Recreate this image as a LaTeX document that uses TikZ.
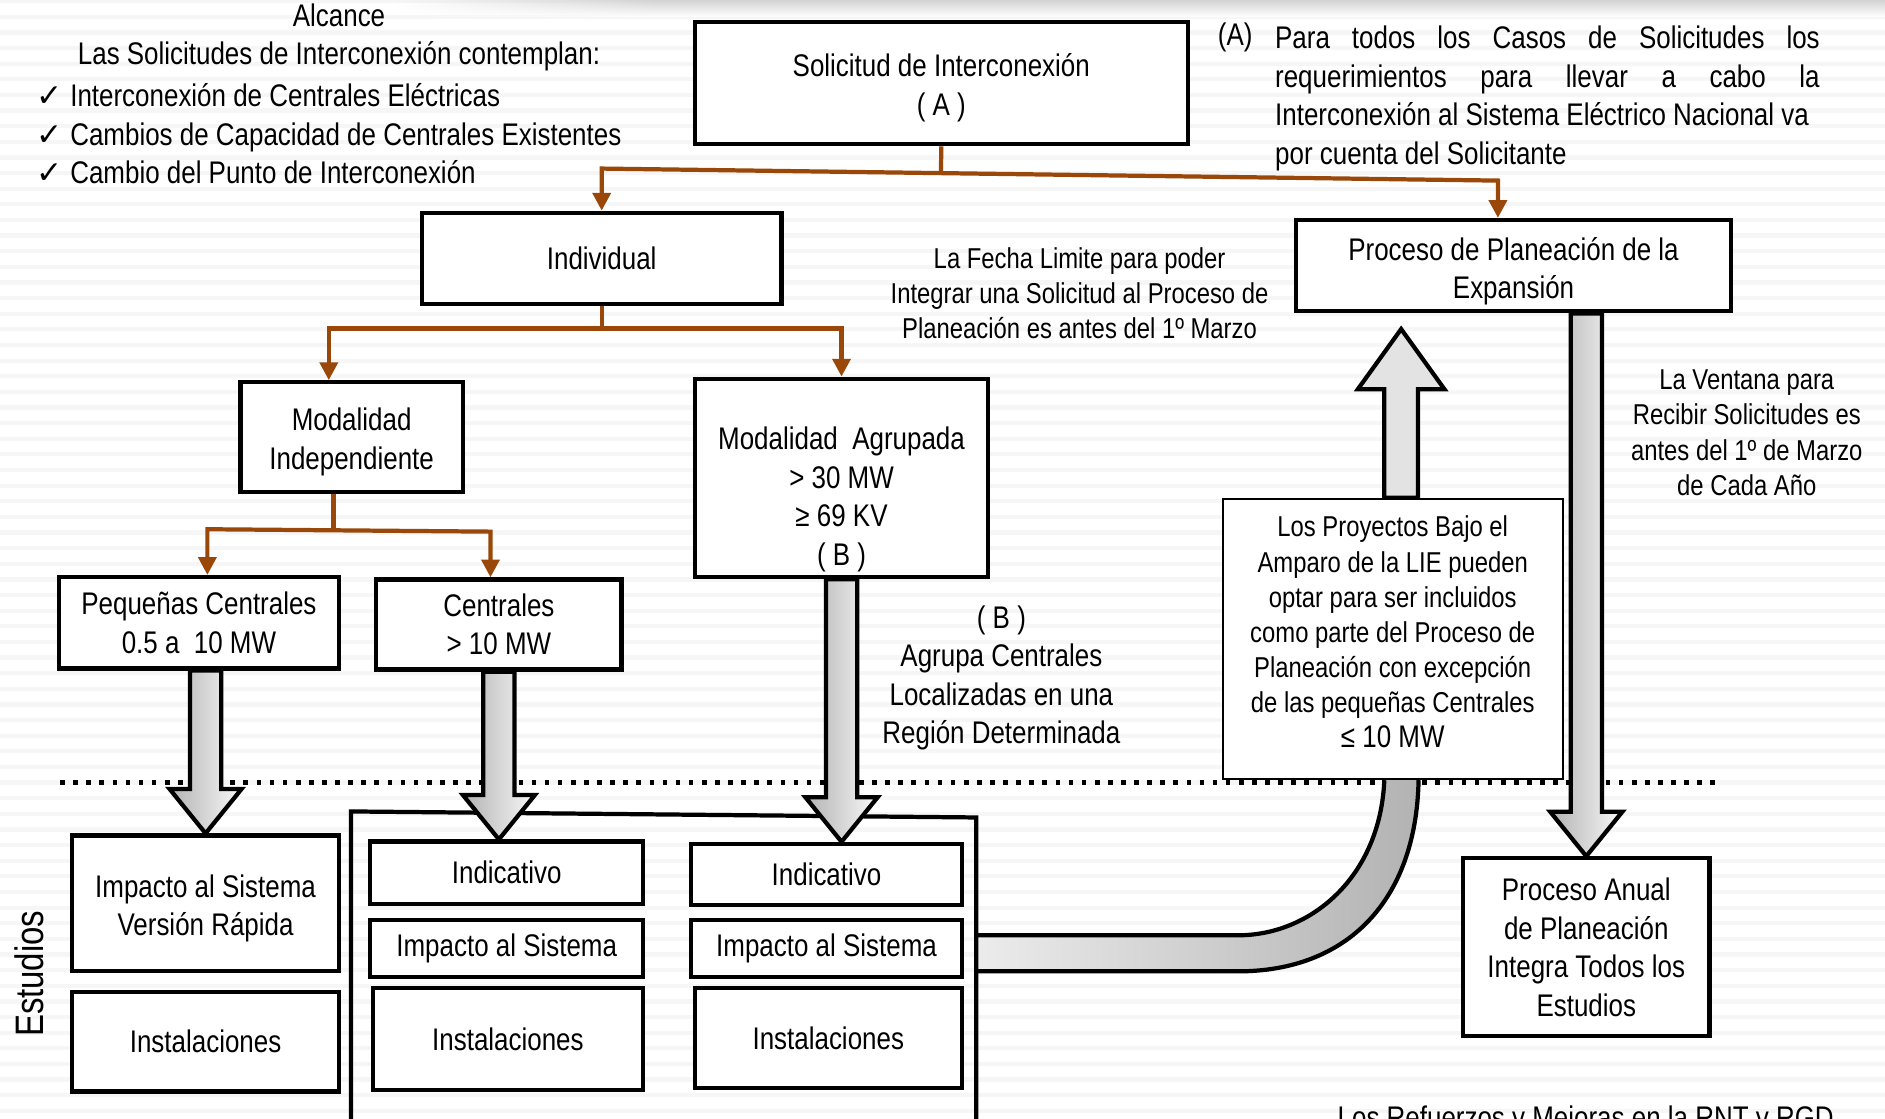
\documentclass[tikz,border=0pt]{standalone}
\usepackage{fontspec}
\setmainfont{Liberation Sans}[FakeStretch=0.83]
\newfontfamily\checkfont{DejaVu Sans}
\usetikzlibrary{calc,arrows.meta,fadings}
\definecolor{linkbrown}{RGB}{153,72,10}
\tikzfading[name=fadein, left color=transparent!100, right color=transparent!0]
\newcommand{\boxfont}{\fontsize{7.4}{9.1}\selectfont}
\newcommand{\notefont}{\fontsize{6.8}{8.3}\selectfont}
\newcommand{\lowstrut}[1]{\rule{0pt}{#1}}
% hollow down arrow: #1 start, #2 tip
\newcommand{\blockdown}[2]{%
  \draw[blockarrow] ($(#1)+(-0.13,0)$) -- ($(#2)+(-0.13,0.37)$) -- ($(#2)+(-0.30,0.37)$)
    -- (#2) -- ($(#2)+(0.30,0.37)$) -- ($(#2)+(0.13,0.37)$) -- ($(#1)+(0.13,0)$) -- cycle;}
\tikzset{
  box/.style={draw, line width=1pt, fill=white, align=center, inner sep=1pt, font=\boxfont},
  thinbox/.style={box, line width=0.5pt, font=\notefont},
  link/.style={draw=linkbrown, line width=1pt, >={Triangle[width=4.2pt,length=4.2pt]}},
  blockarrow/.style={draw=black, line width=1pt, left color=gray!60, right color=gray!5},
  uparrow/.style={draw=black, line width=1pt, fill=gray!22},
  bandshade/.style={left color=gray!15, right color=gray!60},
  stripe/.style={gray!7, line width=0.035cm},
  dotline/.style={line width=1.1pt, dash pattern=on 1.1pt off 2pt},
  frame/.style={line width=1pt}
}
\begin{document}
\begin{tikzpicture}
\useasboundingbox (0,0) rectangle (15.68,9.30);
\clip (0,0) rectangle (15.68,9.30);
\fill[white] (0,0) rectangle (15.68,9.30);
\foreach \y in {0.06,0.19,...,9.30} \draw[stripe] (0,\y) -- (15.68,\y); %background lines
\shade[top color=gray!35, bottom color=white, path fading=fadein] (3.3,9.16) rectangle (5.5,9.30);
\shade[top color=gray!35, bottom color=white] (5.49,9.16) rectangle (15.68,9.30);
\draw[dotline] (0.50,2.79) -- (14.30,2.79); %limit of studies

% boxes
\node[box, minimum width=4.10cm, minimum height=1.02cm] (sol) at (7.83,8.61) {\lowstrut{7.8pt}Solicitud de Interconexión\\( A )};
\node[box, minimum width=2.99cm, minimum height=0.76cm] (ind) at (5.005,7.15) {Individual};
\node[box, minimum width=3.62cm, minimum height=0.76cm] (ppe) at (12.59,7.09) {\lowstrut{8pt}Proceso de Planeación de la\\Expansión};
\node[box, minimum width=1.85cm, minimum height=0.91cm] (mi) at (2.925,5.665) {\lowstrut{7.8pt}Modalidad\\Independiente};
\node[box, minimum width=2.44cm, minimum height=1.65cm] (ma) at (7.00,5.325) {\lowstrut{15.6pt}Modalidad\ \ Agrupada\\> 30 MW\\≥ 69 KV\\( B )};
\node[box, minimum width=2.33cm, minimum height=0.76cm] (pc) at (1.655,4.12) {Pequeñas Centrales\\0.5 a\ \ 10 MW};
\node[box, minimum width=2.04cm, minimum height=0.75cm] (cg) at (4.15,4.105) {Centrales\\> 10 MW};
\node[box, minimum width=2.05cm, minimum height=1.48cm] (pa) at (13.195,1.42) {Proceso Anual\\de Planeación\\Integra Todos los\\Estudios};

% studies
\node[box, minimum width=2.22cm, minimum height=1.13cm] (vr) at (1.71,1.785) {\lowstrut{7.8pt}Impacto al Sistema\\Versión Rápida};
\node[box, minimum width=2.22cm, minimum height=0.83cm] (in1) at (1.71,0.635) {Instalaciones};
\node[box, minimum width=2.27cm, minimum height=0.52cm] (ic2) at (4.215,2.04) {Indicativo};
\node[box, minimum width=2.27cm, minimum height=0.48cm] (is2) at (4.215,1.41) {Impacto al Sistema};
\node[box, minimum width=2.25cm, minimum height=0.85cm] (in2) at (4.225,0.655) {Instalaciones};
\node[box, minimum width=2.25cm, minimum height=0.51cm] (ic3) at (6.875,2.025) {Indicativo};
\node[box, minimum width=2.25cm, minimum height=0.48cm] (is3) at (6.875,1.41) {Impacto al Sistema};
\node[box, minimum width=2.22cm, minimum height=0.83cm] (in3) at (6.89,0.665) {Instalaciones};

% band from the group to the LIE box
\coordinate (bandL) at (11.515,2.81);
\coordinate (bandR) at (11.80,2.81);
\shade[bandshade] (bandL) .. controls (11.48,2.0) and (10.9,1.52) .. (10.3,1.52) -- (8.12,1.52)
  -- (8.12,1.22) -- (10.3,1.22) .. controls (11.2,1.22) and (11.78,1.8) .. (bandR) -- cycle;
\draw[line width=1pt] (bandL) .. controls (11.48,2.0) and (10.9,1.52) .. (10.3,1.52) -- (8.12,1.52);
\draw[line width=1pt] (bandR) .. controls (11.78,1.8) and (11.2,1.22) .. (10.3,1.22) -- (8.12,1.22);
\draw[frame] (2.92,-0.3) -- (2.92,2.55) -- (8.12,2.50) -- (8.12,-0.3); %group frame

\node[thinbox, minimum width=2.83cm, minimum height=2.33cm] (lie) at (11.585,3.985) {Los Proyectos Bajo el\\Amparo de la LIE pueden\\optar para ser incluidos\\como parte del Proceso de\\Planeación con excepción\\de las pequeñas Centrales\\\rule[-3.4pt]{0pt}{0pt}{\boxfont ≤ 10 MW}};

% brown connectors
\coordinate (jA) at ($(ind.north)+(0,0.35)$);
\coordinate (jB) at ($(ppe.north)+(-0.13,0.31)$);
\draw[link] (sol.south) -- ($(jA)!(sol.south)!(jB)$);
\draw[link,<->] (ind.north) -- (jA) -- (jB) -- (jB|-ppe.north);
\coordinate (jC) at ($(mi.north)+(-0.19,0.43)$);
\draw[link] (ind.south) -- (ind.south|-jC);
\draw[link,<->] (jC|-mi.north) -- (jC) -- (ma.north|-jC) -- (ma.north);
\coordinate (miS) at ($(mi.south)+(-0.15,0)$);
\coordinate (jD) at ($(pc.north)+(0.07,0.38)$);
\coordinate (jE) at ($(cg.north)+(-0.07,0.38)$);
\draw[link] (miS) -- (miS|-jD);
\draw[link,<->] (jD|-pc.north) -- (jD) -- (jE) -- (jE|-cg.north);

% hollow arrows
\blockdown{vr.north|-pc.south}{vr.north}
\blockdown{cg.south}{cg.south|-ic2.north}
\blockdown{ma.south}{ma.south|-ic3.north}
\blockdown{pa.north|-ppe.south}{pa.north}
\coordinate (lieup) at ($(lie.north)+(0.07,0)$);
\coordinate (uptip) at ($(lieup|-ppe.south)+(0,-0.13)$);
\draw[uparrow] ($(lieup)+(-0.14,0)$) -- ($(uptip)+(-0.14,-0.50)$) -- ($(uptip)+(-0.36,-0.50)$)
  -- (uptip) -- ($(uptip)+(0.36,-0.50)$) -- ($(uptip)+(0.14,-0.50)$) -- ($(lieup)+(0.14,0)$) -- cycle;

% texts
\node[font=\boxfont, align=center] (alc) at (2.82,8.99) {Alcance\\Las Solicitudes de Interconexión contemplan:};
\node[font=\boxfont, anchor=north west, align=left, inner sep=0pt] (chk) at (0.30,8.61) {{\checkfont ✓}\ Interconexión de Centrales Eléctricas\\{\checkfont ✓}\ Cambios de Capacidad de Centrales Existentes\\{\checkfont ✓}\ Cambio del Punto de Interconexión};
\node[font=\boxfont] (atag) at (10.275,8.99) {(A)};
\node[font=\boxfont, anchor=north west, align=left, inner sep=0pt] (anote) at (10.60,9.09) {\makebox[4.53cm][s]{Para todos los Casos de Solicitudes los}\\\makebox[4.53cm][s]{requerimientos para llevar a cabo la}\\Interconexión al Sistema Eléctrico Nacional va\\por cuenta del Solicitante};
\node[font=\notefont, align=center] (fecha) at (8.98,6.86) {La Fecha Limite para poder\\Integrar una Solicitud al Proceso de\\Planeación es antes del 1º Marzo};
\node[font=\notefont, align=center] (ventana) at (14.53,5.70) {La Ventana para\\Recibir Solicitudes es\\antes del 1º de Marzo\\de Cada Año};
\node[font=\boxfont, align=center] (bnote) at (8.33,3.66) {( B )\\Agrupa Centrales\\Localizadas en una\\Región Determinada};
\node[font=\fontsize{9.4}{11}\selectfont, rotate=90] (est) at (0.24,1.20) {Estudios};
\node[font=\boxfont, anchor=base west, inner sep=0pt] (refz) at (11.12,-0.09) {Los Refuerzos y Mejoras en la RNT y RGD};
\end{tikzpicture}
\end{document}
